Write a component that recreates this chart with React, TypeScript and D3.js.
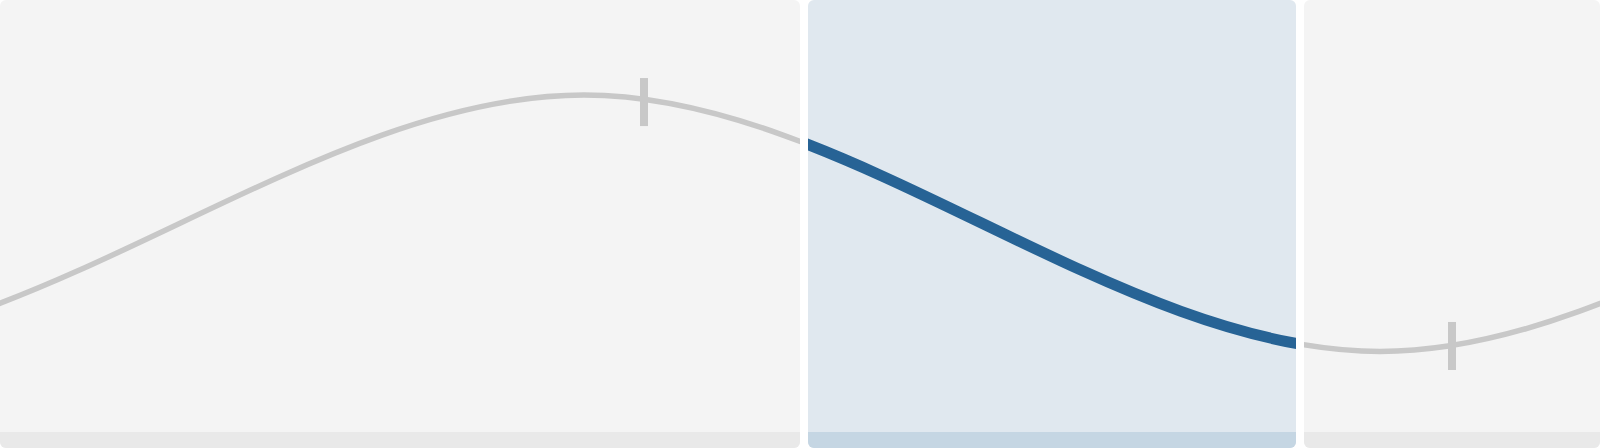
import * as d3 from "d3";
import React, { useRef, useEffect } from "react";

// wave turning points (time units) and their normalised values
const waveT = [-63.5, -14, 36.5, 86.25, 136, 185.75];
const waveV = [1, -1, 1, -1, 1, -1];

// period boundaries on the time axis, and which period is selected
const breaks = [50.25, 81.25];
const activePanel = 1;

// tick markers on the wave
const markerT = [40.25, 90.75];
const markerV = [0.945, -0.957];

const App: React.FC = () => {
  const svgRef = useRef<SVGSVGElement | null>(null);

  useEffect(() => {
    const width = 1600;
    const height = 448;
    const gap = 8;
    const radius = 6;
    const band = 16;
    const margin = { top: 95, bottom: 96.5 };

    const x = d3.scaleLinear().domain([0, 100]).range([0, width]);
    const y = d3.scaleLinear().domain([-1, 1]).range([height - margin.bottom, margin.top]);

    const svg = d3.select(svgRef.current)
      .attr("width", width)
      .attr("height", height)
      .html(""); // clear previous content

    const edges = [0, ...breaks, 100];
    const panels = d3.pairs(edges).map(([a, b], i) => ({
      x0: a === 0 ? x(a) : x(a) + gap / 2,
      x1: b === 100 ? x(b) : x(b) - gap / 2,
      active: i === activePanel,
    }));

    const line = d3.line<number>()
      .x(i => x(waveT[i]))
      .y(i => y(waveV[i]))
      .curve(d3.curveMonotoneX);

    const defs = svg.append("defs");

    panels.forEach((p, i) => {
      defs.append("clipPath")
        .attr("id", `panel-clip-${i}`)
        .append("rect")
        .attr("x", p.x0)
        .attr("y", 0)
        .attr("width", p.x1 - p.x0)
        .attr("height", height)
        .attr("rx", radius);

      const g = svg.append("g").attr("clip-path", `url(#panel-clip-${i})`);

      // background
      g.append("rect")
        .attr("x", p.x0)
        .attr("y", 0)
        .attr("width", p.x1 - p.x0)
        .attr("height", height)
        .attr("fill", p.active ? "#e0e8ef" : "#f4f4f4");

      // bottom strip
      g.append("rect")
        .attr("x", p.x0)
        .attr("y", height - band)
        .attr("width", p.x1 - p.x0)
        .attr("height", band)
        .attr("fill", p.active ? "#c5d6e3" : "#e9e9e9");

      // wave
      g.append("path")
        .attr("d", line(d3.range(waveT.length)))
        .attr("fill", "none")
        .attr("stroke", p.active ? "#276395" : "#c8c8c8")
        .attr("stroke-width", p.active ? 11 : 5.5);

      // markers inside this panel
      const inPanel = d3.range(markerT.length).filter(k => x(markerT[k]) >= p.x0 && x(markerT[k]) <= p.x1);
      g.selectAll(".marker")
        .data(inPanel)
        .enter()
        .append("rect")
        .attr("class", "marker")
        .attr("x", k => x(markerT[k]) - 4)
        .attr("y", k => y(markerV[k]) - 24)
        .attr("width", 8)
        .attr("height", 48)
        .attr("fill", "#c8c8c8");
    });
  }, []);

  return (
    <svg
      ref={svgRef}
      style={{ position: "absolute", left: 0, top: 0, display: "block" }}
    ></svg>
  );
};

export default App;
